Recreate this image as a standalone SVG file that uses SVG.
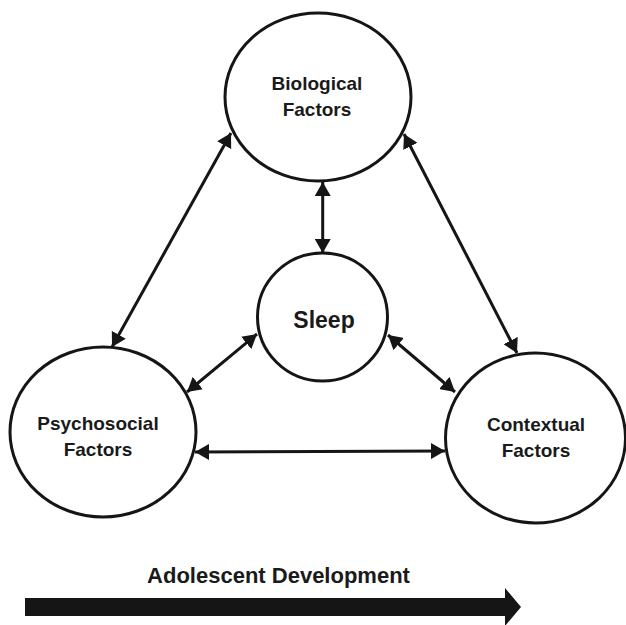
<svg xmlns="http://www.w3.org/2000/svg" width="626" height="625" viewBox="0 0 626 625">
  <style>
    .node ellipse { fill: #fff; stroke: #151515; stroke-width: 3; }
    .lbl { font-family: "Liberation Sans", Arial, sans-serif; font-weight: bold; fill: #1a1a1a; text-anchor: middle; }
    .n { font-size: 19px; }
    .conn line { stroke: #151515; stroke-width: 3; marker-start: url(#ah); marker-end: url(#ah); }
  </style>
  <defs>
    <marker id="ah" viewBox="0 0 14 16" refX="14" refY="8" markerWidth="14" markerHeight="16" markerUnits="userSpaceOnUse" orient="auto-start-reverse">
      <path d="M0,0 L14,8 L0,16 Z" fill="#151515"/>
    </marker>
  </defs>
  <rect width="626" height="625" fill="#fff"/>

  <g id="bio" class="node">
    <ellipse cx="318" cy="97" rx="93" ry="84"/>
    <text class="lbl n" x="317" y="90">Biological</text>
    <text class="lbl n" x="317" y="116">Factors</text>
  </g>
  <g id="sleep" class="node">
    <ellipse cx="322.5" cy="317" rx="65" ry="64"/>
    <text class="lbl" x="324" y="328" font-size="23">Sleep</text>
  </g>
  <g id="psych" class="node">
    <ellipse cx="103" cy="432" rx="93" ry="85"/>
    <text class="lbl n" x="98" y="430">Psychosocial</text>
    <text class="lbl n" x="98" y="456">Factors</text>
  </g>
  <g id="context" class="node">
    <ellipse cx="535.5" cy="438" rx="90" ry="85"/>
    <text class="lbl n" x="536" y="431">Contextual</text>
    <text class="lbl n" x="536" y="457">Factors</text>
  </g>

  <g id="connectors" class="conn">
    <line x1="322.7" y1="182" x2="322.7" y2="253"/>
    <line x1="231" y1="133" x2="112" y2="347"/>
    <line x1="404" y1="134" x2="517" y2="353"/>
    <line x1="257" y1="334" x2="187" y2="392"/>
    <line x1="388" y1="335" x2="455" y2="392"/>
    <line x1="195" y1="452" x2="445" y2="451"/>
  </g>

  <g id="development">
    <text class="lbl" x="278.5" y="583" font-size="22">Adolescent Development</text>
    <polygon points="25,598 505,598 505,588 521,607 505,626 505,616 25,616" fill="#151515"/>
  </g>
</svg>
